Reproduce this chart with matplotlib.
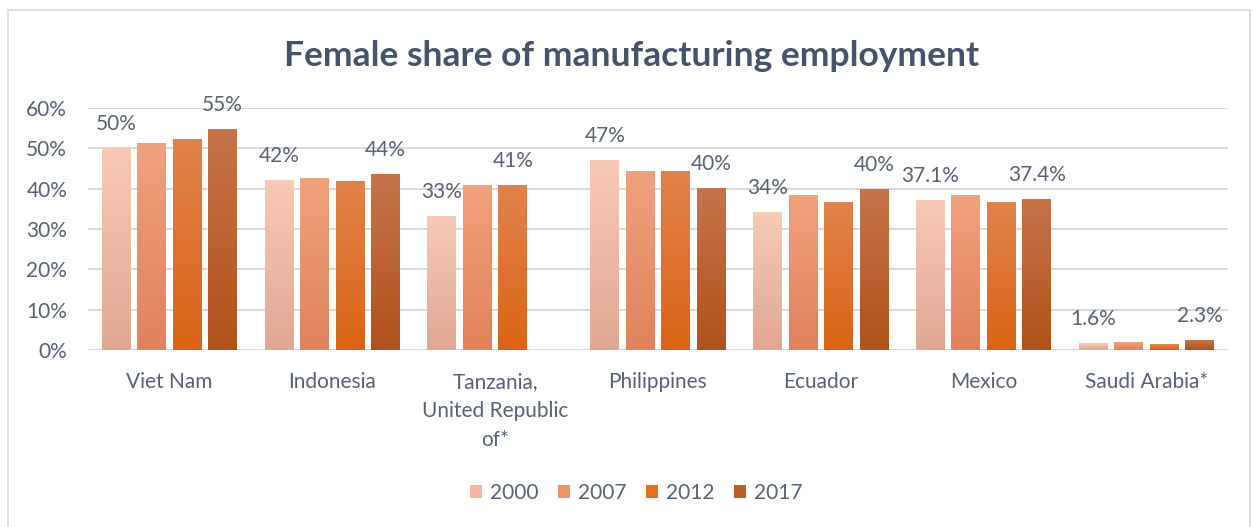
import numpy as np
import matplotlib
matplotlib.use("Agg")
import matplotlib.pyplot as plt
from matplotlib.patches import Rectangle, Patch
from matplotlib.colors import to_rgb

plt.rcParams['font.family'] = ['Lato', 'DejaVu Sans']

title = "Female share of manufacturing employment"
categories = ["Viet Nam", "Indonesia", "Tanzania,\nUnited Republic\nof*", "Philippines",
              "Ecuador", "Mexico", "Saudi Arabia*"]
years = ["2000", "2007", "2012", "2017"]

v2000 = [50.0, 42.0, 33.2, 47.1, 34.1, 37.1, 1.6]
v2007 = [51.3, 42.4, 40.8, 44.3, 38.2, 38.2, 1.8]
v2012 = [52.3, 41.8, 40.8, 44.3, 36.6, 36.6, 1.4]
v2017 = [54.6, 43.6, np.nan, 40.1, 39.9, 37.4, 2.3]

lab2000 = ["50%", "42%", "33%", "47%", "34%", "37.1%", "1.6%"]
lab2007 = [None] * 7
lab2012 = [None, None, "41%", None, None, None, None]
lab2017 = ["55%", "44%", None, "40%", "40%", "37.4%", "2.3%"]

yticks = [0, 10, 20, 30, 40, 50, 60]

series = [v2000, v2007, v2012, v2017]
labels = [lab2000, lab2007, lab2012, lab2017]
# (top colour, bottom colour) of each gradient
grad = [("#F7CAB5", "#E0A893"),
        ("#F0A17C", "#E0825C"),
        ("#E2824C", "#DA6415"),
        ("#C6734A", "#B0521A")]
solid = ["#F2B9A0", "#EE9468", "#E2701F", "#BE5F27"]

W, H = 1253, 527
fig = plt.figure(figsize=(W / 100, H / 100), dpi=100)
ax = fig.add_axes([88 / W, 1 - 350 / H, (1228 - 88) / W, (350 - 108) / H])

text_col = "#586375"
fs = 15
x = np.arange(len(categories))
step, bw = 0.218, 0.178
for i, (vals, labs) in enumerate(zip(series, labels)):
    off = (i - 1.5) * step
    bars = ax.bar(x + off, vals, width=bw, color=solid[i], zorder=2)
    top, bot = np.array(to_rgb(grad[i][0])), np.array(to_rgb(grad[i][1]))
    t = np.linspace(0, 1, 64)[:, None]
    img = (top * (1 - t) + bot * t)[:, None, :]
    for b, lab in zip(bars, labs):
        h = b.get_height()
        if np.isnan(h):
            continue
        x0 = b.get_x()
        ax.imshow(img, extent=[x0, x0 + b.get_width(), 0, h], aspect='auto',
                  zorder=3, interpolation='bilinear')
        if lab:
            ax.annotate(lab, (x0 + b.get_width() / 2, h), xytext=(0, 13.3),
                        textcoords='offset points', ha='center', va='baseline',
                        fontsize=fs, color=text_col, zorder=4)

ax.set_xlim(-0.5, len(categories) - 0.5)
ax.set_ylim(0, 60)
ax.set_yticks(yticks)
ax.set_yticklabels([f"{v}%" for v in yticks], fontsize=fs, color=text_col)
ax.set_xticks(x)
ax.set_xticklabels(categories, fontsize=fs, color=text_col, linespacing=1.55, va='top')
ax.tick_params(axis='both', length=0)
ax.tick_params(axis='y', pad=15)
ax.tick_params(axis='x', pad=16)
ax.grid(axis='y', color="#D9D9D9", linewidth=1.4, zorder=0)
ax.set_axisbelow(True)
for s in ax.spines.values():
    s.set_visible(False)

fig.text(632 / W, 1 - 66 / H, title, ha='center', va='baseline', fontsize=25.5,
         fontweight='bold', color="#44546A")

handles = [Patch(facecolor=solid[i], edgecolor='none') for i in range(4)]
fig.legend(handles, years, loc='center', bbox_to_anchor=(636 / W, 1 - 493 / H),
           ncol=4, frameon=False, fontsize=fs, handlelength=0.6, handleheight=0.6,
           handletextpad=0.35, columnspacing=0.95, labelcolor=text_col)

# chart-area border
fig.patches.append(Rectangle((8 / W, -0.05), (1250 - 8) / W, 1.05 - 10 / H,
                             transform=fig.transFigure, fill=False,
                             edgecolor="#D9D9D9", linewidth=1.2))

fig.savefig("out.png", dpi=100)
